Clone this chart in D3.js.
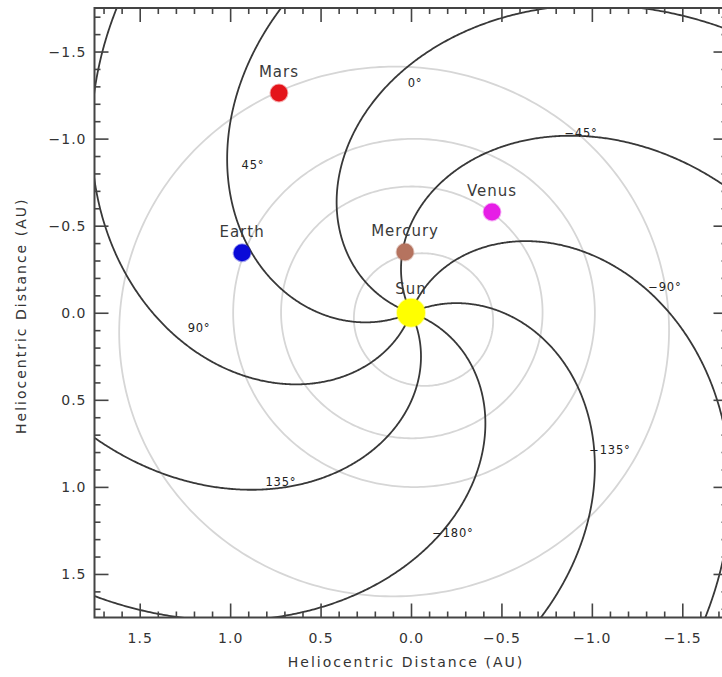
<!DOCTYPE html>
<html>
<head>
<meta charset="utf-8">
<script src="https://cdn.jsdelivr.net/npm/d3@7"></script>
<style>
  html, body { margin: 0; padding: 0; background: #fff; }
  svg { display: block; }
  text { font-family: "DejaVu Sans", sans-serif; fill: #333; }
</style>
</head>
<body>
<svg id="chart" width="722" height="677"></svg>
<script>
// ---------------- data ----------------
// Parker spiral field lines, labelled by longitude (deg)
const spiralLongitudes = [0, 45, 90, 135, -180, -135, -90, -45];
const spiralLabels = ["0°", "45°", "90°", "135°", "−180°", "−135°", "−90°", "−45°"];
// label centre positions (AU, plot frame)
const spiralLabelX = [-0.022, 0.874, 1.172, 0.719, -0.232, -1.100, -1.404, -0.940];
const spiralLabelY = [-1.320, -0.849, 0.088, 0.972, 1.265, 0.788, -0.148, -1.033];
// spiral shape: angle(r) = longitude - spiralPhase - spiralWinding * r   (deg, AU)
const spiralPhase = 20;
const spiralWinding = 49;

// planetary orbits (semi-major axis AU, eccentricity, perihelion angle in plot frame deg)
const orbitNames = ["Mercury", "Venus", "Earth", "Mars"];
const orbitA = [0.387, 0.723, 1.0, 1.524];
const orbitE = [0.2056, 0.0068, 0.0167, 0.0934];
const orbitPeri = [-29.5, 24, -4, 229];

// bodies (heliocentric position AU)
const bodyNames = ["Sun", "Mercury", "Venus", "Earth", "Mars"];
const bodyLabels = ["Sun", "Mercury", "Venus", "Earth", "Mars"];
const bodyX = [0.0, 0.033, -0.448, 0.934, 0.730];
const bodyY = [0.0, -0.349, -0.579, -0.344, -1.262];
const bodyColors = ["#ffff00", "#b5735f", "#e61ee6", "#0a0ad8", "#e4141a"];

// axes
const xDomain = [1.75, -1.75];
const yDomain = [-1.75, 1.75];
const majorTicks = [-1.5, -1.0, -0.5, 0.0, 0.5, 1.0, 1.5];
const minorTicks = d3.range(-17, 18).filter(i => i % 5 !== 0).map(i => i / 10);
const axisTitle = "Heliocentric Distance (AU)";

// ---------------- layout ----------------
const L = 94.5, R = 727.5, T = 8, B = 617.5;
const svg = d3.select("#chart");
const x = d3.scaleLinear().domain(xDomain).range([L, R]);
const y = d3.scaleLinear().domain(yDomain).range([T, B]);

svg.append("defs").append("clipPath").attr("id", "clip")
  .append("rect").attr("x", L).attr("y", T).attr("width", R - L).attr("height", B - T);

const plot = svg.append("g").attr("clip-path", "url(#clip)");
const line = d3.line().x(d => x(d[0])).y(d => y(d[1])).curve(d3.curveLinear);
const rad = Math.PI / 180;

// orbits
orbitA.forEach((a, i) => {
  const e = orbitE[i], w = orbitPeri[i];
  const pts = d3.range(0, 361, 1).map(nu => {
    const r = a * (1 - e * e) / (1 + e * Math.cos(nu * rad));
    const th = (w + nu) * rad;
    return [r * Math.cos(th), r * Math.sin(th)];
  });
  plot.append("path").attr("d", line(pts))
    .attr("fill", "none").attr("stroke", "#d6d6d6").attr("stroke-width", 1.8);
});

// spirals
spiralLongitudes.forEach(lon => {
  const pts = d3.range(0, 2.6, 0.005).map(r => {
    const th = (lon - spiralPhase - spiralWinding * r) * rad;
    return [r * Math.cos(th), r * Math.sin(th)];
  });
  plot.append("path").attr("d", line(pts))
    .attr("fill", "none").attr("stroke", "#383838").attr("stroke-width", 1.8);
});

// spiral labels
spiralLabels.forEach((t, i) => {
  plot.append("text").attr("x", x(spiralLabelX[i])).attr("y", y(spiralLabelY[i]))
    .attr("text-anchor", "middle").attr("dominant-baseline", "central")
    .attr("font-size", 11.5).attr("letter-spacing", 0.8).style("fill", "#222")
    .text(t);
});

// bodies
bodyNames.forEach((n, i) => {
  const isSun = n === "Sun";
  plot.append("circle").attr("cx", x(bodyX[i])).attr("cy", y(bodyY[i]))
    .attr("r", isSun ? 14 : 8.5).attr("fill", bodyColors[i])
    .attr("stroke", bodyColors[i]).attr("stroke-opacity", 0.35).attr("stroke-width", 2);
  plot.append("text").attr("x", x(bodyX[i])).attr("y", y(bodyY[i]) - (isSun ? 24 : 21))
    .attr("text-anchor", "middle").attr("dominant-baseline", "central")
    .attr("font-size", 15).attr("letter-spacing", 1).style("fill", "#3a3a3a")
    .text(bodyLabels[i]);
});

// ---------------- axes ----------------
const fmt = d3.format(".1f");
function styleAxis(g) {
  g.select(".domain").remove();
  g.selectAll("line").attr("stroke", "#444").attr("stroke-width", 1.6);
  g.selectAll("text").attr("font-family", "DejaVu Sans, sans-serif")
    .attr("font-size", 14).attr("letter-spacing", 1).style("fill", "#333");
}
// bottom
svg.append("g").attr("transform", `translate(0,${B})`)
  .call(d3.axisBottom(x).tickValues(majorTicks).tickSize(-14).tickPadding(16).tickFormat(fmt)).call(styleAxis);
svg.append("g").attr("transform", `translate(0,${B})`)
  .call(d3.axisBottom(x).tickValues(minorTicks).tickSize(-6).tickFormat("")).call(styleAxis);
// top
svg.append("g").attr("transform", `translate(0,${T})`)
  .call(d3.axisTop(x).tickValues(majorTicks).tickSize(-14).tickFormat("")).call(styleAxis);
svg.append("g").attr("transform", `translate(0,${T})`)
  .call(d3.axisTop(x).tickValues(minorTicks).tickSize(-6).tickFormat("")).call(styleAxis);
// left
svg.append("g").attr("transform", `translate(${L},0)`)
  .call(d3.axisLeft(y).tickValues(majorTicks).tickSize(-14).tickPadding(8).tickFormat(fmt)).call(styleAxis);
svg.append("g").attr("transform", `translate(${L},0)`)
  .call(d3.axisLeft(y).tickValues(minorTicks).tickSize(-6).tickFormat("")).call(styleAxis);
// right
svg.append("g").attr("transform", `translate(${R},0)`)
  .call(d3.axisRight(y).tickValues(majorTicks).tickSize(-14).tickFormat("")).call(styleAxis);
svg.append("g").attr("transform", `translate(${R},0)`)
  .call(d3.axisRight(y).tickValues(minorTicks).tickSize(-6).tickFormat("")).call(styleAxis);

// frame
svg.append("rect").attr("x", L).attr("y", T).attr("width", R - L).attr("height", B - T)
  .attr("fill", "none").attr("stroke", "#444").attr("stroke-width", 2);

// titles
svg.append("text").attr("x", (L + 727.5) / 2 - 5).attr("y", 662)
  .attr("text-anchor", "middle").attr("dominant-baseline", "central")
  .attr("font-size", 14).attr("letter-spacing", 2).style("fill", "#333")
  .text(axisTitle);
svg.append("text").attr("transform", `translate(21,${y(0) + 3}) rotate(-90)`)
  .attr("text-anchor", "middle").attr("dominant-baseline", "central")
  .attr("font-size", 14).attr("letter-spacing", 2).style("fill", "#333")
  .text(axisTitle);
</script>
</body>
</html>
